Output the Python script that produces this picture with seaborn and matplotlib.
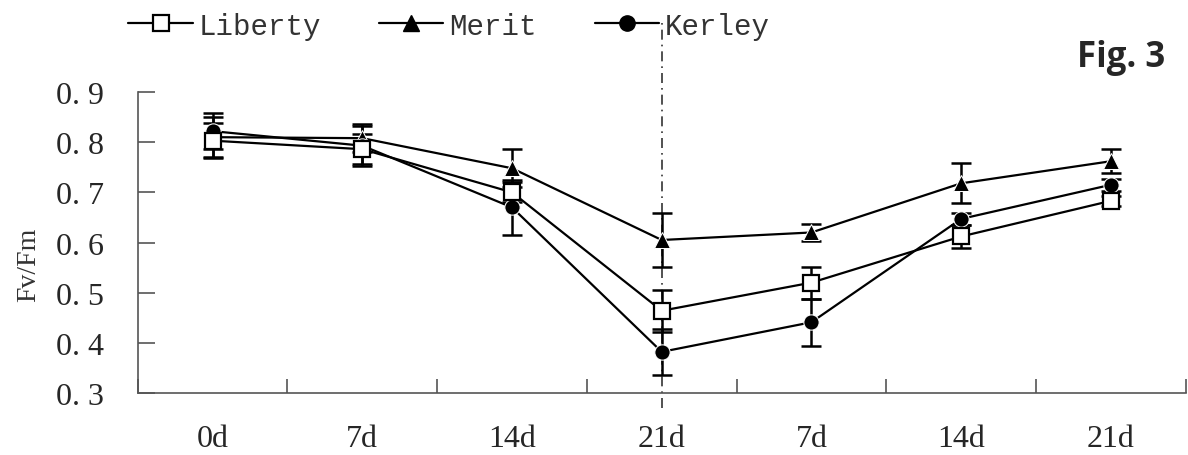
import pandas as pd
import matplotlib
matplotlib.use("Agg")
import matplotlib.pyplot as plt
import seaborn as sns

# values
days = ["0d", "7d", "14d", "21d", "7d", "14d", "21d"]
liberty = [0.803, 0.786, 0.700, 0.464, 0.520, 0.612, 0.683]
liberty_err = [0.035, 0.030, 0.020, 0.042, 0.032, 0.022, 0.010]
merit = [0.810, 0.808, 0.748, 0.605, 0.620, 0.718, 0.762]
merit_err = [0.040, 0.028, 0.038, 0.053, 0.017, 0.040, 0.024]
kerley = [0.822, 0.793, 0.670, 0.382, 0.441, 0.647, 0.715]
kerley_err = [0.036, 0.040, 0.055, 0.046, 0.047, 0.012, 0.012]

series = {"Liberty": (liberty, liberty_err),
          "Merit": (merit, merit_err),
          "Kerley": (kerley, kerley_err)}

rows = []
for name, (vals, errs) in series.items():
    for i, (v, e) in enumerate(zip(vals, errs)):
        rows.append({"cultivar": name, "pos": i, "value": v, "err": e})
df = pd.DataFrame(rows)

sns.set_style("ticks")
plt.rcParams["font.family"] = ["Liberation Serif", "DejaVu Serif"]

fig = plt.figure(figsize=(11.88, 4.56), dpi=100)
ax = fig.add_axes([0.116, 0.136, 0.882, 0.660])

markers = {"Liberty": "s", "Merit": "^", "Kerley": "o"}
sns.lineplot(data=df, x="pos", y="value", hue="cultivar", style="cultivar",
             markers=markers, dashes=False, palette=["black"] * 3,
             markersize=11, linewidth=1.6, legend=False, ax=ax)

for line in ax.lines:
    line.set_zorder(3)

for name, (vals, errs) in series.items():
    ax.errorbar(range(len(days)), vals, yerr=errs, fmt="none", ecolor="black",
                elinewidth=1.8, capsize=7, capthick=1.8, zorder=2)

# open squares for Liberty drawn on top of the error bars
sq = df[df["cultivar"] == "Liberty"]
ax.plot(sq["pos"], sq["value"], linestyle="none", marker="s", markersize=11,
        markerfacecolor="white", markeredgecolor="black", markeredgewidth=1.6, zorder=4)

ax.set_xlim(-0.5, 6.5)
ax.set_ylim(0.3, 0.9)
ax.set_yticks([0.3, 0.4, 0.5, 0.6, 0.7, 0.8, 0.9])
ax.set_yticklabels(["0. 3", "0. 4", "0. 5", "0. 6", "0. 7", "0. 8", "0. 9"], fontsize=23)
ax.set_xticks([i - 0.5 for i in range(8)])
ax.set_xticklabels([])
ax.set_xticks(range(len(days)), minor=True)
ax.set_xticklabels(days, minor=True, fontsize=23)
ax.tick_params(axis="x", which="major", direction="in", length=10, width=1.2, color="#555555")
ax.tick_params(axis="x", which="minor", length=0, pad=22)
ax.tick_params(axis="y", direction="in", length=12, width=1.2, color="#555555", pad=24)
ax.set_xlabel("")
ax.set_ylabel("Fv/Fm", fontsize=20, color="#333333")
ax.yaxis.set_label_coords(-0.092, 0.43)
for s in ["top", "right"]:
    ax.spines[s].set_visible(False)
for s in ["left", "bottom"]:
    ax.spines[s].set_color("#555555")
    ax.spines[s].set_linewidth(1.2)

# dash-dot separator through the whole figure
ax.axvline(3, ymin=-0.05, ymax=1.24, color="#333333", linestyle=(0, (6, 3, 1, 3)),
           linewidth=1.2, clip_on=False, zorder=1)

handles = [
    plt.Line2D([], [], color="black", marker="s", markersize=11, markerfacecolor="white",
               markeredgewidth=1.6, linewidth=1.6),
    plt.Line2D([], [], color="black", marker="^", markersize=11, linewidth=1.6),
    plt.Line2D([], [], color="black", marker="o", markersize=11, linewidth=1.6),
]
leg = fig.legend(handles, list(series.keys()), loc="upper left", bbox_to_anchor=(0.086, 1.03),
                 ncol=3, frameon=False, handlelength=2.2, handletextpad=0.2,
                 columnspacing=2.0, prop={"family": "Liberation Mono", "size": 21})
for t in leg.get_texts():
    t.set_color("#333333")

fig.text(0.981, 0.872, "Fig. 3", ha="right", va="center", fontsize=25,
         fontweight="bold", family="Open Sans")

fig.savefig("out.png", dpi=100)
